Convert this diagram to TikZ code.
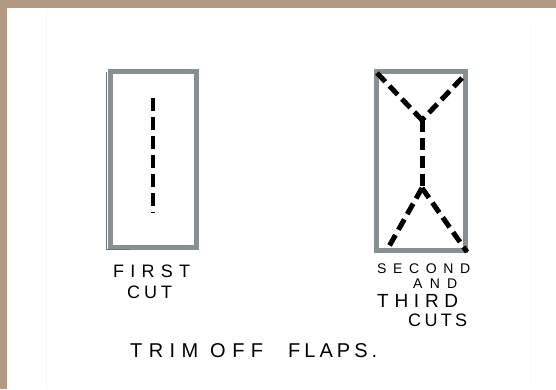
\documentclass[tikz,border=0pt]{standalone}
\usepackage{fontspec}
\newfontfamily\hand{Liberation Sans}
\definecolor{tan}{RGB}{178,153,130}
\definecolor{frame}{RGB}{135,143,147}
\newcommand\spreadw[2]{\makebox[#1][s]{#2}}
\tikzset{
  graybox/.style={draw=frame, line width=5pt},
  shadowline/.style={draw=frame!80!black, line width=0.8pt},
  cutline/.style={draw=black, line width=4pt, dash pattern=on 13pt off 6pt},
  cutline2/.style={draw=black, line width=5pt, dash pattern=on 12pt off 6pt},
  lbl/.style={anchor=base west, inner sep=0pt, font=\hand},
}
\begin{document}
\begin{tikzpicture}[x=1pt,y=-1pt]
\useasboundingbox (0,0) rectangle (556,389);
\fill[white] (0,0) rectangle (556,389);
% tan border (top and left)
\fill[tan] (0,0) rectangle (556,8);
\fill[tan] (0,0) rectangle (7,389);
% faint scan lines
\draw[black!3, line width=1pt] (46,10) -- (46,389);
\draw[black!2, line width=1pt] (530,20) -- (530,389);

% ---- first panel ----
\draw[graybox] (110.5,71.5) rectangle (196,247);
\draw[shadowline] (106,72) -- (106,249.5) -- (130,249.5);
\coordinate (f1) at (153,98);
\coordinate (f2) at (153,213);
\draw[cutline] (f1) -- (f2);

% ---- second panel ----
\draw[graybox] (376.5,71.5) rectangle (465,250.5);
\coordinate (tl) at (377,73);
\coordinate (tr) at (462,78);
\coordinate (j1) at (422,120);
\coordinate (j2) at (422,188);
\coordinate (bl) at (387,250);
\coordinate (br) at (467,252);
\draw[cutline2] (tl) -- (j1);
\draw[cutline2] (tr) -- (j1);
\draw[cutline2] (j1) -- (j2);
\draw[cutline2] (j2) -- (bl);
\draw[cutline2] (j2) -- (br);

% ---- labels ----
\node[lbl, font=\hand\fontsize{18}{18}\selectfont] (first) at (113,277) {\spreadw{77pt}{F\hfil I\hfil R\hfil S\hfil T}};
\node[lbl, font=\hand\fontsize{18}{18}\selectfont] (cut) at (127,298) {\spreadw{45pt}{C\hfil U\hfil T}};

\node[lbl, font=\hand\fontsize{14}{14}\selectfont] (second) at (377,273.5) {\spreadw{93pt}{S\hfil E\hfil C\hfil O\hfil N\hfil D}};
\node[lbl, font=\hand\fontsize{14}{14}\selectfont] (and) at (413,288) {\spreadw{44pt}{A\hfil N\hfil D}};
\node[lbl, font=\hand\fontsize{19}{19}\selectfont] (third) at (377,307) {\spreadw{81pt}{T\hfil H\hfil I\hfil R\hfil D}};
\node[lbl, font=\hand\fontsize{18}{18}\selectfont] (cuts) at (408,326) {\spreadw{59pt}{C\hfil U\hfil T\hfil S}};

\node[lbl, font=\hand\fontsize{20}{20}\selectfont] (trim) at (130,357) {\spreadw{68pt}{T\hfil R\hfil I\hfil M}};
\node[lbl, font=\hand\fontsize{20}{20}\selectfont] (off) at (210,357) {\spreadw{53pt}{O\hfil F\hfil F}};
\node[lbl, font=\hand\fontsize{20}{20}\selectfont] (flaps) at (288,357) {\spreadw{89pt}{F\hfil L\hfil A\hfil P\hfil S\hfil .}};
\end{tikzpicture}
\end{document}
